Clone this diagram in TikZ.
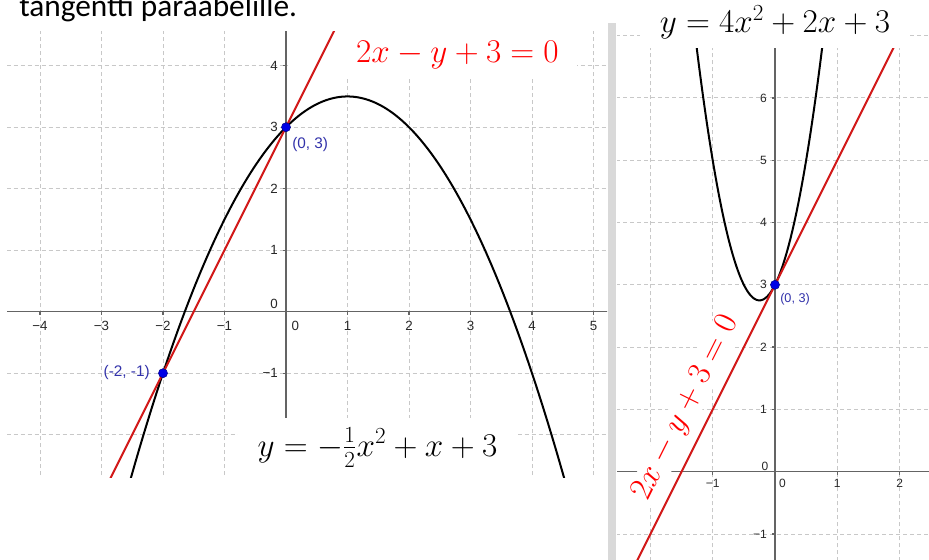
\documentclass[tikz,border=0pt]{standalone}
\usepackage[no-math]{fontspec}
\setmainfont{Carlito}
\newfontfamily\ggfont{Liberation Sans}
\definecolor{gridc}{RGB}{200,200,200}
\definecolor{axisc}{RGB}{100,100,100}
\definecolor{tickc}{RGB}{40,40,40}
\definecolor{redl}{RGB}{210,25,25}
\definecolor{redt}{RGB}{255,0,0}
\definecolor{ptc}{RGB}{0,0,230}
\definecolor{ptlab}{RGB}{50,50,170}
\definecolor{barc}{RGB}{217,217,217}
\begin{document}
\begin{tikzpicture}[x=0.75pt,y=-0.75pt,
  leftplot/.style={shift={(286,311.7)}, x=46.125pt, y=46.125pt},
  rightplot/.style={shift={(775,471.7)}, x=46.725pt, y=46.725pt},
  gridline/.style={draw=gridc, line width=0.75pt, dash pattern=on 3pt off 2.25pt},
  axisline/.style={draw=axisc, line width=1pt},
  curve/.style={draw=black, line width=1.5pt},
  tline/.style={draw=redl, line width=1.5pt},
  ptdot/.style={circle, fill=ptc, draw=ptc!60!black, line width=0.4pt, inner sep=0pt, minimum size=6.8pt},
  ticklab/.style={font=\ggfont\fontsize{10}{11}\selectfont, text=tickc, inner sep=0pt},
  ticklabR/.style={font=\ggfont\fontsize{9}{10}\selectfont, text=tickc, inner sep=0pt},
  ptlabL/.style={font=\ggfont\fontsize{11.5}{13}\selectfont, text=ptlab, inner sep=0pt},
  ptlabR/.style={font=\ggfont\fontsize{9.5}{11}\selectfont, text=ptlab, inner sep=0pt},
  eqn/.style={font=\fontsize{24}{28}\selectfont, inner sep=0pt}
]
\useasboundingbox (0,0) rectangle (929,560);
\fill[white] (0,0) rectangle (929,560);

% title (cut at the top)
\node[anchor=base west, font=\fontsize{23.5}{27}\selectfont, inner sep=0pt] (title) at (19,17) {tangentti paraabelille.};

% ---------- left plot: grid ----------
\begin{scope}
\clip (7,32) rectangle (607,477);
\begin{scope}[leftplot]
  \foreach \i in {-4,-3,-2,-1,1,2,3,4,5} \draw[gridline] (\i,-3) -- (\i,5);
  \foreach \j in {-2,-1,1,2,3,4} \draw[gridline] (-5,\j) -- (6,\j);
\end{scope}
\end{scope}

% white box behind the top label
\fill[white] (288,28) rectangle (577,77);

% ---------- left plot: axes, curves ----------
\begin{scope}
\clip (7,32) rectangle (607,477);
\begin{scope}[leftplot]
  \draw[axisline] (-5,0) -- (6,0);
  \draw[axisline] (0,-3) -- (0,5);
  \foreach \i in {-4,-3,-2,-1,1,2,3,4,5} \draw[axisline] (\i,0) -- (\i,-0.05);
  \foreach \j in {-2,-1,1,2,3,4} \draw[axisline] (0,\j) -- (-0.05,\j);
  \draw[curve] plot[domain=-2.7:4.7, samples=120, smooth] (\x,{-0.5*(\x)^2+\x+3});
  \draw[tline] (-3,-3) -- (1,5);
  \node[ptdot] (pA) at (0,3) {};
  \node[ptdot] (pB) at (-2,-1) {};
\end{scope}
\end{scope}

% left tick labels
\begin{scope}[leftplot]
  \foreach \i/\t [count=\k] in {-4/−4,-3/−3,-2/−2,-1/−1,1/1,2/2,3/3,4/4,5/5}
    \node[ticklab] (lx\k) at ([yshift=-10.5pt]\i,0) {\t};
  \foreach \j/\t [count=\k] in {-1/−1,1/1,2/2,3/3,4/4}
    \node[ticklab, anchor=east] (ly\k) at ([xshift=-6pt]0,\j) {\t};
  \node[ticklab] (lx0) at ([xshift=7pt,yshift=-10.5pt]0,0) {0};
  \node[ticklab] (ly0) at ([xshift=-9pt,yshift=5.8pt]0,0) {0};
\end{scope}
\node[ptlabL, anchor=west] (lA) at (292,145) {(0, 3)};
\node[ptlabL, anchor=east] (lB) at (150,373) {(-2, -1)};

% bottom label box and label
\fill[white] (238,418) rectangle (518,479);
\node[eqn, anchor=base] (eqB) at (377.5,456) {$y=-\frac{1}{2}x^2+x+3$};
\node[eqn, anchor=base, text=redt] (eqA) at (457.5,62.7) {$2x-y+3=0$};

% ---------- separator bar ----------
\fill[barc] (608,23) rectangle (616,560);

% ---------- right plot ----------
\begin{scope}
\clip (617,23) rectangle (929,560);
\begin{scope}[rightplot]
  \foreach \i in {-2,-1,1,2} \draw[gridline] (\i,-2) -- (\i,8);
  \foreach \j in {-1,1,2,3,4,5,6,7} \draw[gridline] (-3,\j) -- (3,\j);
  \draw[axisline] (-3,0) -- (3,0);
  \draw[axisline] (0,-2) -- (0,8);
  \foreach \i in {-2,-1,1,2} \draw[axisline] (\i,0) -- (\i,-0.05);
  \foreach \j in {-1,1,2,3,4,5,6,7} \draw[axisline] (0,\j) -- (-0.05,\j);
  \draw[curve] plot[domain=-1.3:0.8, samples=120, smooth] (\x,{4*(\x)^2+2*\x+3});
  \draw[tline] (-2.5,-2) -- (2.5,8);
  \node[ptdot] (pC) at (0,3) {};
  \foreach \i/\t [count=\k] in {-1/−1,1/1,2/2}
    \node[ticklabR] (rx\k) at ([yshift=-8.7pt]\i,0) {\t};
  \foreach \j/\t [count=\k] in {-1/−1,1/1,2/2,3/3,4/4,5/5,6/6}
    \node[ticklabR, anchor=east] (ry\k) at ([xshift=-6pt]0,\j) {\t};
  \node[ticklabR] (rx0) at ([xshift=5.5pt,yshift=-8.7pt]0,0) {0};
  \node[ticklabR] (ry0) at ([xshift=-7.5pt,yshift=4.3pt]0,0) {0};
\end{scope}
\end{scope}
\node[ptlabR, anchor=west] (lC) at (780,299) {(0, 3)};

% top-right label
\fill[white] (640,0) rectangle (910,48);
\node[eqn, anchor=base] (eqD) at (775,33) {$y=4x^2+2x+3$};

% rotated tangent label
\node[eqn, rotate=63.43, fill=white, inner sep=1pt, text=redt] (eqC) at (686,408) {$2x-y+3=0$};
\end{tikzpicture}
\end{document}
